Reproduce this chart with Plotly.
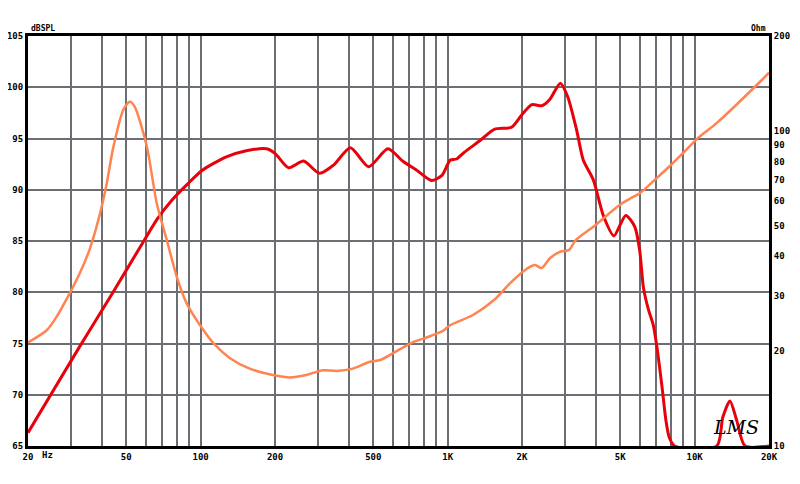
import plotly.graph_objects as go

# SPL response (dB, left axis)
spl_freq = [20, 32, 44.2, 59.2, 67, 76, 88, 101.6, 127, 153, 185, 200, 227, 261, 303,
            345, 404, 479, 573, 661, 750, 861, 948, 1025, 1086, 1174, 1353, 1545, 1816,
            1995, 2193, 2410, 2590, 2860, 3060, 3330, 3540, 3890, 4280, 4710, 5260, 5720,
            5990, 6200, 6500, 6800, 7050, 7400, 7650, 7900, 8300, 12300, 13000, 13900,
            14800, 16000, 20000]
spl_db = [66.3, 74.5, 80.0, 85.1, 87.2, 88.9, 90.5, 91.9, 93.2, 93.8, 94.0, 93.55, 92.15, 92.8, 91.6,
          92.4, 94.1, 92.25, 94.0, 92.75, 91.9, 90.9, 91.4, 92.9, 93.0, 93.7, 94.8, 95.9, 96.1,
          97.3, 98.3, 98.2, 98.8, 100.4, 99.1, 95.8, 92.9, 90.95, 87.4, 85.5, 87.5, 86.4,
          84.1, 80.5, 78.3, 76.8, 74.5, 70.5, 67.5, 65.8, 65.0, 65.0, 67.8, 69.4,
          67.5, 65.0, 65.0]

# impedance (Ohm, right axis)
imp_freq = [20, 23.8, 26.1, 29.5, 32.5, 35.5, 38.5, 41.5, 44.2, 48.6, 51.6, 54.0, 60.6, 66.4, 72.9,
            80, 87.7, 99.3, 112.6, 131.5, 158, 196, 230, 268, 312, 355, 413, 484, 533, 601,
            728, 821, 957, 1025, 1262, 1545, 1800, 2060, 2260, 2400, 2600, 2860, 3100, 3300,
            3900, 4950, 5500, 6000, 7000, 7960, 8970, 10300, 12300, 18700, 20000]
imp_ohm = [21.3, 23.3, 25.7, 30.5, 35.5, 42.0, 52.0, 67.0, 88, 116.5, 123.7, 119.6, 89, 58.9, 45.1,
           34.5, 28.4, 24.2, 21.2, 19.0, 17.6, 16.8, 16.5, 16.8, 17.4, 17.3, 17.6, 18.5, 18.75, 19.7,
           21.4, 22.1, 23.2, 24.2, 26.0, 29.1, 33.0, 36.2, 37.5, 36.7, 39.5, 41.4, 41.9, 45.0,
           49.7, 58.1, 61.1, 63.4, 70.7, 77.5, 85, 94.8, 106, 145, 153]

x_grid = sorted(set(v for d in (1, 2, 3) for m in range(1, 10)
                    for v in [m * 10 ** d] if v >= 20) | {10000, 20000})
x_labels = {20: '20', 50: '50', 100: '100', 200: '200', 500: '500', 1000: '1K',
            2000: '2K', 5000: '5K', 10000: '10K', 20000: '20K'}
ohm_ticks = [10, 20, 30, 40, 50, 60, 70, 80, 90, 100, 200]

tick_font = dict(family='DejaVu Sans Mono', size=9, color='black', weight='bold')
grid_col = '#6b6e73'

fig = go.Figure()
fig.add_trace(go.Scatter(x=imp_freq, y=imp_ohm, yaxis='y2', mode='lines',
                         line=dict(color='#ff8450', width=2.5, shape='spline', smoothing=0.7)))
fig.add_trace(go.Scatter(x=spl_freq, y=spl_db, mode='lines',
                         line=dict(color='#e8000b', width=3, shape='spline', smoothing=0.7)))

# page body adds an 8px margin, so the figure is a bit smaller
fig.update_layout(
    width=792, height=476,
    margin=dict(l=20, r=31, t=28, b=38),
    paper_bgcolor='white', plot_bgcolor='white',
    showlegend=False,
    xaxis=dict(type='log', range=[1.30103, 4.30103], automargin=False,
               tickvals=x_grid, ticktext=[x_labels.get(v, '') for v in x_grid],
               showgrid=True, gridcolor=grid_col, gridwidth=2,
               showline=True, linecolor='black', linewidth=3, mirror=True,
               ticks='', tickfont=tick_font, zeroline=False),
    yaxis=dict(range=[65, 105], dtick=5, showgrid=True, gridcolor=grid_col, gridwidth=2,
               showline=True, linecolor='black', linewidth=3, automargin=False,
               ticks='', tickfont=tick_font, zeroline=False),
    yaxis2=dict(type='log', range=[1, 2.30103], overlaying='y', side='right',
                tickvals=ohm_ticks, ticktext=[str(v) for v in ohm_ticks], automargin=False,
                showgrid=False, showline=True, linecolor='black', linewidth=3,
                ticks='', tickfont=tick_font),
    annotations=[
        dict(text='dBSPL', x=0, y=1, xref='paper', yref='paper', xanchor='left', yanchor='bottom',
             xshift=1, yshift=1, showarrow=False, font=dict(family='DejaVu Sans Mono', size=8, color='black', weight='bold')),
        dict(text='Ohm', x=1, y=1, xref='paper', yref='paper', xanchor='right', yanchor='bottom',
             xshift=-1, yshift=1, showarrow=False, font=dict(family='DejaVu Sans Mono', size=8, color='black', weight='bold')),
        dict(text='Hz', x=0, y=0, xref='paper', yref='paper', xanchor='left', yanchor='top',
             xshift=12, yshift=-2, showarrow=False, font=tick_font),
        dict(text='<i>LMS</i>', x=1, y=0, xref='paper', yref='paper', xanchor='right', yanchor='bottom',
             xshift=-8, yshift=6, showarrow=False,
             font=dict(family='DejaVu Serif', size=19, color='black')),
    ],
)

fig.write_html('out.html')
